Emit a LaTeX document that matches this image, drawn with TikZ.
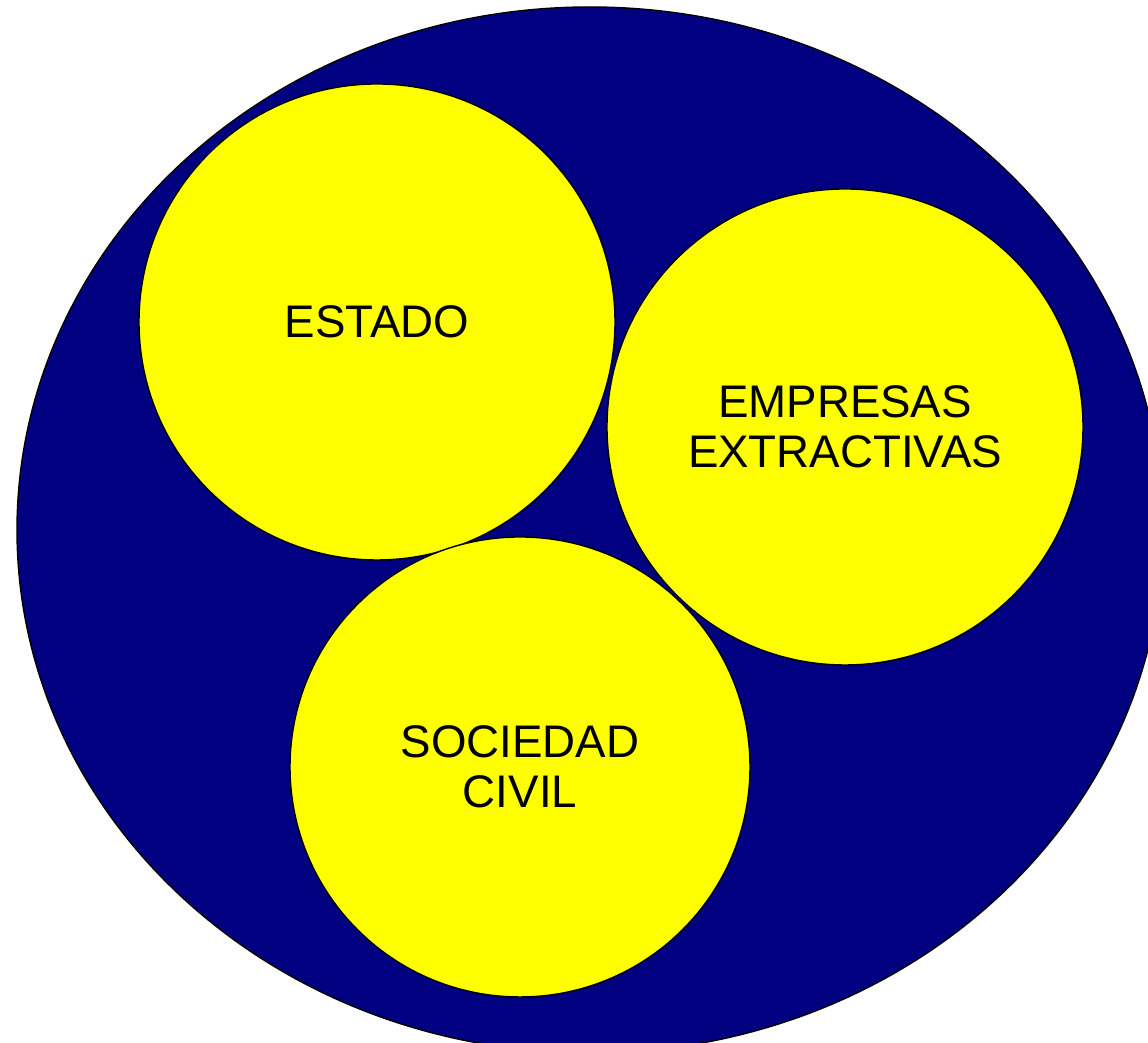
\documentclass[tikz,border=0pt]{standalone}
\usepackage{fontspec}
\setmainfont{Liberation Sans}
\definecolor{fondo}{HTML}{000080}
\definecolor{amarillo}{HTML}{FFFF00}

\begin{document}
\begin{tikzpicture}[
		actor/.style={circle, draw=black, line width=0.4pt, fill=amarillo, inner sep=0pt,
			align=center, font=\fontsize{13}{14.3}\selectfont}
	]
			\useasboundingbox (0,0) rectangle (11.48,10.43);
			\clip (0,0) rectangle (11.48,10.43);
			\draw[fill=fondo, line width=0.4pt] (5.90,5.13) ellipse (5.73cm and 5.23cm);

			\node[actor, minimum size=4.76cm] (estado) at (3.77,7.21) {ESTADO};
			\node[actor, minimum size=4.76cm] (empresas) at (8.45,6.16) {EMPRESAS\\EXTRACTIVAS};
			\node[actor, minimum size=4.60cm] (sociedad) at (5.20,2.76) {SOCIEDAD\\CIVIL};
		\end{tikzpicture}
\end{document}
